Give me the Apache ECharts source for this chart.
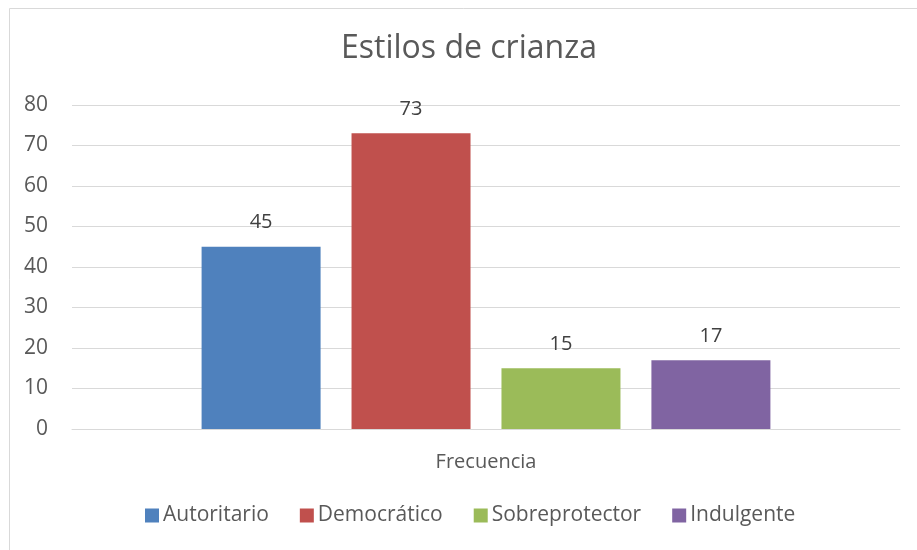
<!DOCTYPE html>
<html>
<head>
<meta charset="utf-8">
<script src="https://cdn.jsdelivr.net/npm/echarts@6/dist/echarts.min.js"></script>
<style>
html,body{margin:0;padding:0;background:#fff;}
#c{width:917px;height:550px;}
</style>
</head>
<body>
<div id="c"></div>
<script>
var categories = ['Frecuencia'];
var seriesNames = ['Autoritario', 'Democrático', 'Sobreprotector', 'Indulgente'];
var seriesValues = [[45], [73], [15], [17]];
var seriesColors = ['#4f81bd', '#c0504d', '#9bbb59', '#8064a2'];
var yTicks = {min: 0, max: 80, interval: 10};
var FONT = 'Open Sans';

var chart = echarts.init(document.getElementById('c'), null, {renderer: 'canvas'});
var series = seriesNames.map(function (n, i) {
  return {
    name: n,
    type: 'bar',
    data: seriesValues[i],
    barWidth: 119,
    barGap: '26%',
    itemStyle: {color: seriesColors[i]},
    label: {show: true, position: 'top', distance: 14, color: '#404040', fontSize: 20, fontFamily: FONT}
  };
});
chart.setOption({
  animation: false,
  backgroundColor: '#fff',
  title: {
    text: 'Estilos de crianza', left: 341, top: 33, padding: 0,
    textStyle: {fontFamily: FONT, fontWeight: 'normal', fontSize: 32, color: '#595959'}
  },
  legend: {
    data: seriesNames, bottom: 24, left: 145, itemWidth: 14, itemHeight: 14, itemGap: 31,
    icon: 'rect', padding: 0,
    textStyle: {fontFamily: FONT, fontSize: 21, color: '#595959', padding: [0, 0, 0, -1]}
  },
  grid: {left: 72, right: 17, top: 105, bottom: 121, containLabel: false},
  xAxis: {
    type: 'category', data: categories,
    axisLine: {show: true, lineStyle: {color: '#d9d9d9', width: 1}},
    axisTick: {show: false},
    axisLabel: {color: '#595959', fontFamily: FONT, fontSize: 20, margin: 23}
  },
  yAxis: {
    type: 'value', min: yTicks.min, max: yTicks.max, interval: yTicks.interval,
    axisLine: {show: false}, axisTick: {show: false},
    axisLabel: {color: '#595959', fontFamily: FONT, fontSize: 21, margin: 24},
    splitLine: {lineStyle: {color: '#d9d9d9', width: 1}}
  },
  graphic: [{
    type: 'rect', left: 7, top: 6, silent: true,
    shape: {width: 1000, height: 700},
    style: {fill: 'none', stroke: '#d9d9d9', lineWidth: 1}
  }],
  series: series
});
</script>
</body>
</html>
